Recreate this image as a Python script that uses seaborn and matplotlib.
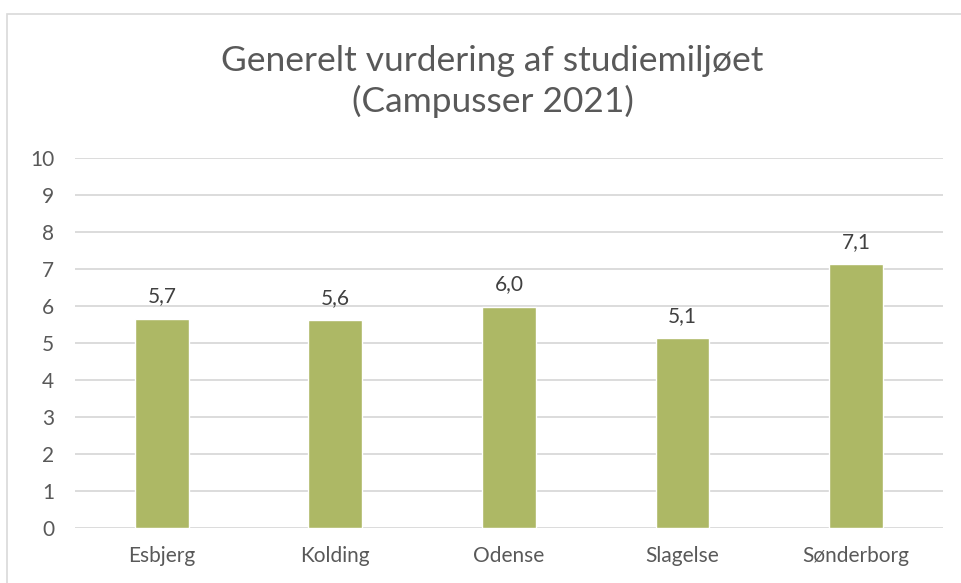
import numpy as np
import pandas as pd
import matplotlib
matplotlib.use("Agg")
import matplotlib.pyplot as plt
import seaborn as sns
from matplotlib.patches import Rectangle

# Data -----------------------------------------------------------------------
campuses = ["Esbjerg", "Kolding", "Odense", "Slagelse", "Sønderborg"]
scores = [5.66, 5.61, 5.98, 5.14, 7.14]
y_ticks = [0, 1, 2, 3, 4, 5, 6, 7, 8, 9, 10]

df = pd.DataFrame({"campus": campuses, "score": scores})

sns.set_theme(style="white")
plt.rcParams["font.family"] = ["Lato", "DejaVu Sans"]
text_col = "#595959"

fig = plt.figure(figsize=(9.62, 5.83), dpi=100)
ax = fig.add_axes([0.078, 0.0943, 0.902, 0.6347])

sns.barplot(data=df, x="campus", y="score", color="#ADB865", width=0.31,
            saturation=1, ax=ax, zorder=3)

# value labels with danish decimal comma
for i, v in enumerate(scores):
    ax.text(i, v + 0.33, f"{v:.1f}".replace(".", ","), ha="center", va="bottom",
            fontsize=15, color="#404040")

ax.set_ylim(0, 10)
ax.set_yticks(y_ticks)
ax.yaxis.grid(True, color="#D9D9D9", linewidth=1.3, zorder=0)
ax.set_axisbelow(True)
for s in ax.spines.values():
    s.set_visible(False)
ax.tick_params(axis="both", length=0, labelsize=15, labelcolor=text_col)
ax.tick_params(axis="x", pad=13)
ax.tick_params(axis="y", pad=15)
ax.set_xlabel("")
ax.set_ylabel("")

fig.text(0.512, 0.86, "Generelt vurdering af studiemiljøet\n(Campusser 2021)",
         ha="center", va="center", fontsize=25.5, color=text_col, linespacing=1.3)

# chart border
fig.patches.append(Rectangle((0.007, -0.01), 1.0, 0.986, transform=fig.transFigure,
                             fill=False, edgecolor="#D9D9D9", linewidth=1.2))

fig.savefig("out.png", dpi=100)
